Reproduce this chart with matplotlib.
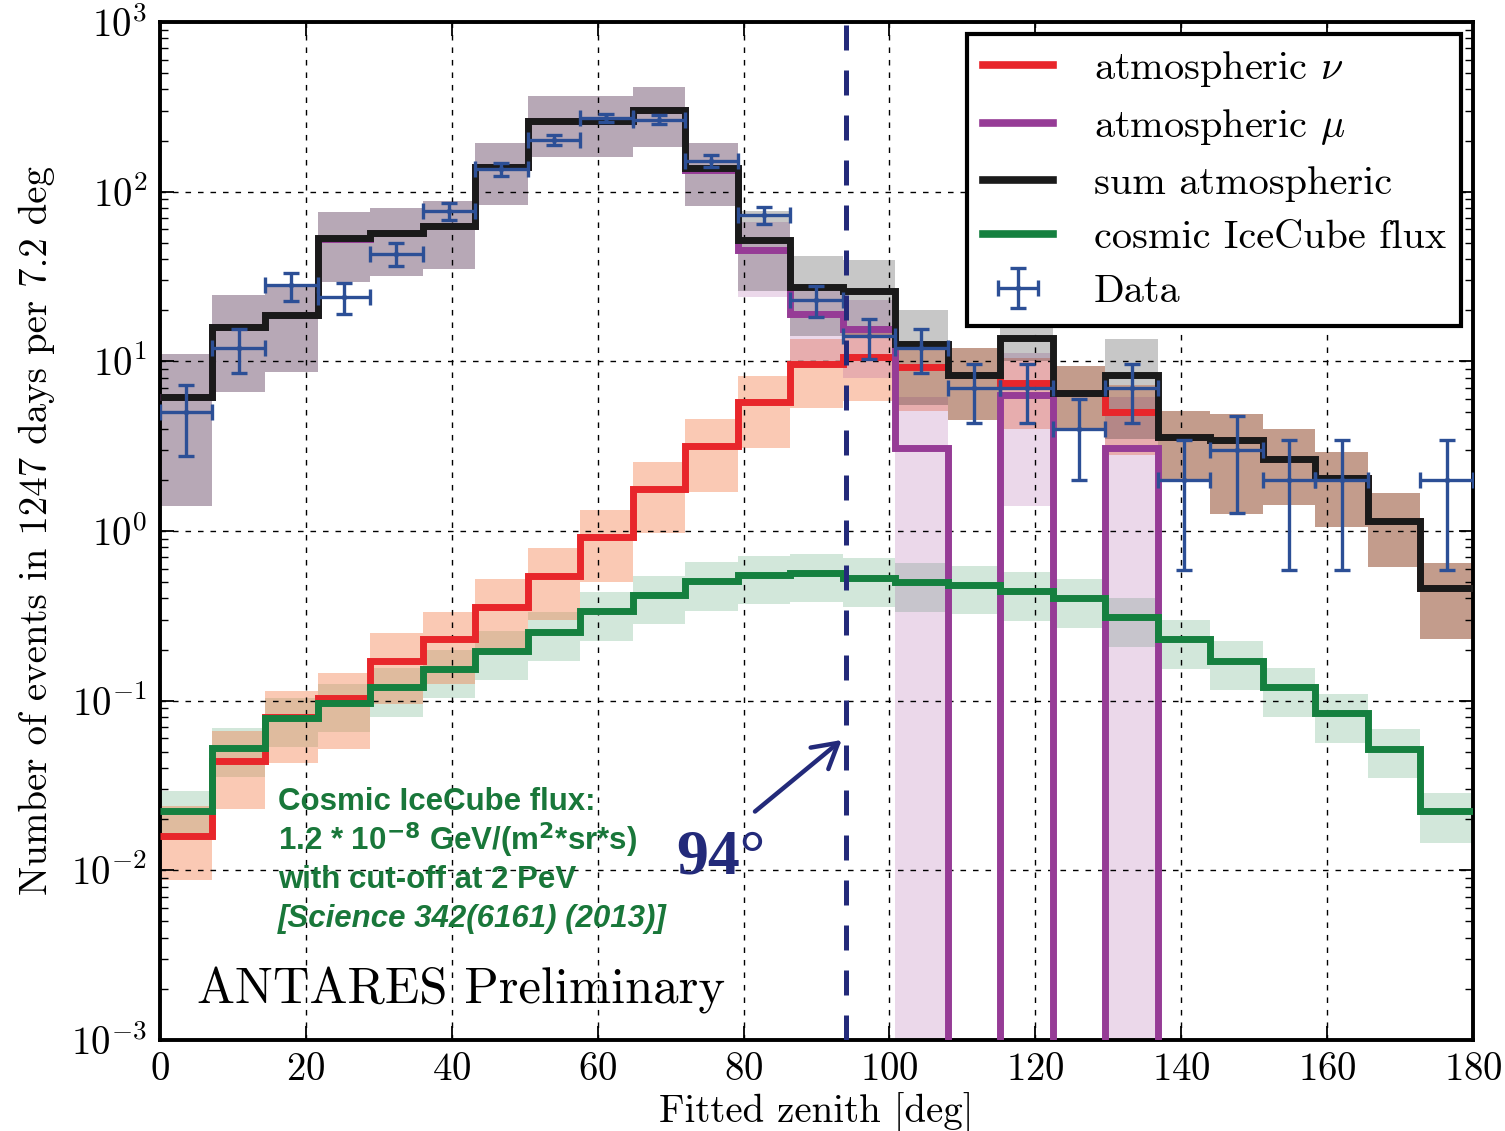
import numpy as np
import matplotlib
matplotlib.use("Agg")
import matplotlib.pyplot as plt
from matplotlib.lines import Line2D
from matplotlib.ticker import NullLocator

plt.rcParams.update({
    "font.family": "serif",
    "font.serif": ["cmr10"],
    "mathtext.fontset": "cm",
    "axes.formatter.use_mathtext": True,
})

# 25 zenith bins of 7.2 deg
edges = np.arange(26) * 7.2

# atmospheric neutrinos
atm_nu = [0.016, 0.044, 0.080, 0.104, 0.172, 0.231, 0.357, 0.54, 0.92, 1.77, 3.16, 5.77, 9.7,
          10.6, 9.3, 8.3, 7.4, 6.5, 5.0, 3.56, 3.45, 2.66, 2.04, 1.15, 0.46]
atm_nu_lo = [0.0088, 0.023, 0.043, 0.052, 0.095, 0.125, 0.20, 0.30, 0.50, 0.97, 1.7, 3.1, 5.3,
             5.8, 5.1, 4.5, 4.0, 4.0, 2.8, 2.0, 1.26, 1.43, 1.05, 0.61, 0.23]
atm_nu_hi = [0.024, 0.066, 0.114, 0.146, 0.25, 0.335, 0.52, 0.79, 1.32, 2.55, 4.56, 8.2, 13.5,
             14.8, 13.0, 12.0, 10.5, 9.4, 7.2, 5.1, 4.9, 4.0, 2.9, 1.68, 0.65]

# atmospheric muons
atm_mu = [6.18, 15.96, 18.62, 52.9, 56.8, 62.8, 139.6, 260.5, 260.1, 301.2, 134.8, 45, 19,
          15.6, 3.1, 0, 6.3, 0, 3.1, 0, 0, 0, 0, 0, 0]
atm_mu_lo = [1.4, 6.6, 8.6, 29.3, 31.6, 35, 83, 160, 160, 184, 82, 24, 10,
             8, 0, 0, 1.4, 0, 0, 0, 0, 0, 0, 0, 0]
atm_mu_hi = [11.0, 24.5, 28.5, 75.6, 80, 88, 193, 368, 368, 415, 193, 66, 28,
             23, 6.2, 0, 11.2, 0, 6.2, 0, 0, 0, 0, 0, 0]

# sum of atmospheric backgrounds
sum_atm = [6.2, 16, 18.7, 53, 57, 63, 140, 261, 261, 303, 138, 52, 27.4,
           26, 12.6, 8.3, 13.8, 6.5, 8.3, 3.56, 3.45, 2.66, 2.04, 1.15, 0.46]
sum_atm_lo = [1.4, 6.6, 8.6, 29.3, 31.6, 35, 83, 160, 160, 184, 82, 26, 14,
              14, 5.5, 4.5, 10.0, 4.0, 3.5, 2.0, 1.26, 1.43, 1.05, 0.61, 0.23]
sum_atm_hi = [11.0, 24.5, 28.5, 75.6, 80, 88, 193, 368, 368, 415, 193, 77, 42,
              39.7, 20, 12.0, 17.5, 9.4, 13.6, 5.1, 4.9, 4.0, 2.9, 1.68, 0.65]

# cosmic IceCube flux
cosmic = [0.0225, 0.0527, 0.0794, 0.097, 0.12, 0.154, 0.197, 0.255, 0.336, 0.42, 0.505, 0.55,
          0.566, 0.53, 0.50, 0.48, 0.44, 0.40, 0.31, 0.23, 0.172, 0.12, 0.084, 0.052, 0.0224]
cosmic_lo = [0.0151, 0.0353, 0.0532, 0.065, 0.080, 0.103, 0.132, 0.171, 0.225, 0.281, 0.338, 0.369,
             0.379, 0.355, 0.335, 0.322, 0.295, 0.268, 0.208, 0.154, 0.115, 0.080, 0.056, 0.035, 0.0145]
cosmic_hi = [0.0293, 0.0685, 0.103, 0.126, 0.156, 0.200, 0.256, 0.332, 0.437, 0.546, 0.657, 0.715,
             0.736, 0.689, 0.650, 0.624, 0.572, 0.520, 0.403, 0.299, 0.224, 0.156, 0.109, 0.068, 0.0285]

# observed events
data = np.array([5, 12, 28, 24, 43, 77, 135, 202, 272, 266, 152, 73, 23,
                 14, 12, 7, 7, 4, 7, 2, 3, 2, 2, 0, 2])

C_NU, C_MU, C_SUM, C_COS = "#e8262b", "#963c96", "#1a1a1a", "#15803f"
C_DATA = "#2c4f96"
C_NAVY = "#232a7a"
C_TXT = "#19773a"

fig = plt.figure(figsize=(15.05, 11.31), dpi=100)
ax = fig.add_axes([0.1063, 0.0805, 0.8724, 0.9001])
ax.set_yscale("log")

floor = 1e-6  # empty bins are drawn below the axis


def band(lo, hi, color, alpha):
    ax.stairs(np.maximum(hi, floor), edges, baseline=np.maximum(lo, floor),
              fill=True, color=color, alpha=alpha, lw=0, zorder=1)


band(cosmic_lo, cosmic_hi, "#1f8a46", 0.2)
band(atm_nu_lo, atm_nu_hi, "#f47a45", 0.4)
band(atm_mu_lo, atm_mu_hi, "#9b3d97", 0.2)
band(sum_atm_lo, sum_atm_hi, "black", 0.22)

ax.stairs(atm_nu, edges, baseline=None, color=C_NU, lw=5, zorder=3)
ax.stairs(np.maximum(atm_mu, floor), edges, baseline=None, color=C_MU, lw=5, zorder=3)
ax.stairs(sum_atm, edges, baseline=None, color=C_SUM, lw=5, zorder=3.2)
ax.stairs(cosmic, edges, baseline=None, color=C_COS, lw=5, zorder=3)

centers = 0.5 * (edges[1:] + edges[:-1])
half = 0.5 * np.diff(edges)
m = data > 0
eb = ax.errorbar(centers[m], data[m], xerr=half[m], yerr=np.sqrt(data[m]), fmt=".",
                 color=C_DATA, ms=6, elinewidth=2.4, capsize=6, capthick=2.4, zorder=5)

# cut at 94 deg
ax.axvline(94, color=C_NAVY, lw=3.6, dashes=(5, 4), zorder=6)
ax.annotate("", xy=(93.46, 0.0586), xytext=(81.57, 0.0222),
            arrowprops=dict(arrowstyle="->,head_length=0.7,head_width=0.4", color=C_NAVY,
                            lw=3.2, shrinkA=0, shrinkB=0, mutation_scale=25), zorder=6)

ax.set_xlim(0, 180)
ax.set_ylim(1e-3, 1e3)
ax.set_xticks(np.arange(0, 181, 20))
ax.xaxis.set_minor_locator(NullLocator())
ax.grid(True, which="major", color="black", linestyle=(0, (4, 5)), linewidth=1.0)
ax.tick_params(which="both", direction="in", top=True, right=True)
ax.tick_params(which="major", length=10, width=1.3, labelsize=28, pad=9)
ax.tick_params(which="minor", length=6, width=1.0)
for s in ax.spines.values():
    s.set_linewidth(2.8)

ax.set_xlabel("Fitted zenith [deg]", fontsize=28)
ax.set_ylabel("Number of events in 1247 days per 7.2 deg", fontsize=28)
ax.xaxis.set_label_coords(0.5, -0.052)
ax.yaxis.set_label_coords(-0.08, 0.5)

handles = [Line2D([], [], color=C_NU, lw=5.5), Line2D([], [], color=C_MU, lw=5.5),
           Line2D([], [], color=C_SUM, lw=5.5), Line2D([], [], color=C_COS, lw=5.5), eb]
labels = ["atmospheric $\\nu$", "atmospheric $\\mu$", "sum atmospheric",
          "cosmic IceCube flux", "Data"]
leg = ax.legend(handles, labels, loc="upper right", fontsize=29, frameon=True, fancybox=False,
                edgecolor="black", framealpha=1, borderaxespad=0.3, handlelength=1.75,
                handletextpad=1.0, labelspacing=0.45, borderpad=0.38)
leg.get_frame().set_linewidth(3)
leg.set_zorder(10)

W, H = 1505, 1131
fig.text(197 / W, 1 - 1003 / H, "ANTARES Preliminary", fontsize=36.5, va="baseline")

sans = ["Liberation Sans", "DejaVu Sans"]
note = dict(family=sans, weight="bold", fontsize=22.5, color=C_TXT, va="baseline",
            math_fontfamily="dejavusans")
fig.text(278 / W, 1 - 810 / H, "Cosmic IceCube flux:", **note)
fig.text(278 / W, 1 - 850 / H, "1.2 * 10$^{\\mathbf{-8}}$ GeV/(m$^{\\mathbf{2}}$*sr*s)", **note)
fig.text(278 / W, 1 - 888 / H, "with cut-off at 2 PeV", **note)
fig.text(278 / W, 1 - 927 / H, "[Science 342(6161) (2013)]", style="italic", **note)

fig.text(676 / W, 1 - 873 / H, "94\u00b0", family=["Liberation Serif", "DejaVu Serif"],
         weight="bold", fontsize=46, color=C_NAVY, va="baseline")

fig.savefig("out.png", dpi=100)
